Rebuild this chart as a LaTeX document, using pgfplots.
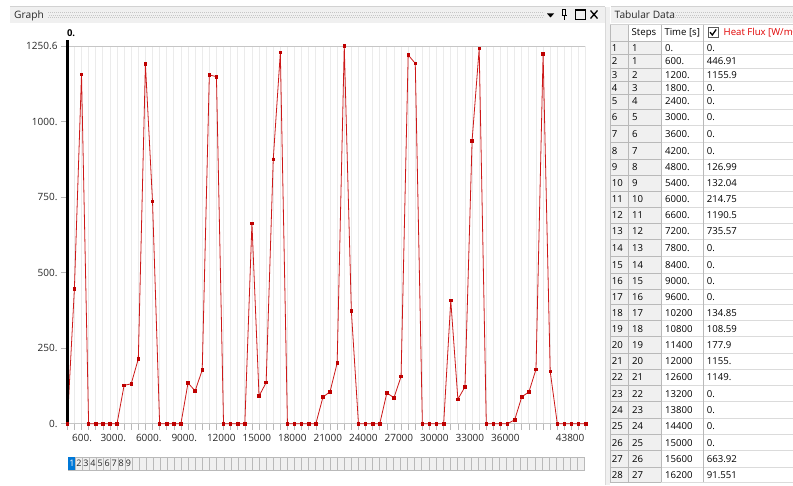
\documentclass[border=0pt]{standalone}
\usepackage{pgfplots}
\pgfplotsset{compat=1.18}
\usepackage{pgfplotstable}
\usepackage{fontspec}
\setmainfont{Open Sans}

\definecolor{flux}{RGB}{205,25,25}
\definecolor{fluxmark}{RGB}{190,0,0}
\definecolor{panel}{RGB}{240,240,240}
\definecolor{selblue}{RGB}{0,120,215}
\definecolor{hdrred}{RGB}{225,0,0}
\definecolor{uitext}{RGB}{40,40,40}

% heat flux history: time [s], heat flux [W/m^2]
\pgfplotstableread{
t q
0 0
600 446.91
1200 1155.9
1800 0
2400 0
3000 0
3600 0
4200 0
4800 126.99
5400 132.04
6000 214.75
6600 1190.5
7200 735.57
7800 0
8400 0
9000 0
9600 0
10200 134.85
10800 108.59
11400 177.9
12000 1155
12600 1149
13200 0
13800 0
14400 0
15000 0
15600 663.92
16200 91.551
16800 136
17400 875
18000 1229
18600 0
19200 0
19800 0
20400 0
21000 0
21600 88
22200 106
22800 201
23400 1250.6
24000 373
24600 0
25200 0
25800 0
26400 0
27000 102
27600 86
28200 156
28800 1221
29400 1193
30000 0
30600 0
31200 0
31800 0
32400 408
33000 81
33600 122
34200 937
34800 1242
35400 0
36000 0
36600 0
37200 0
37800 13
38400 89
39000 105
39600 180
40200 1225
40800 173
41400 0
42000 0
42600 0
43200 0
43800 0
}\fluxdata

\begin{document}
\begin{tikzpicture}[x=1pt,y=1pt,font=\fontsize{9.6}{11}\selectfont]
\useasboundingbox (0,0) rectangle (793,485);
\fill[white] (0,0) rectangle (793,485);

% ---------- Graph panel ----------
\fill[panel] (10,462) rectangle (605,478);
\draw[gray!35] (10,478.5) -- (605,478.5);
\node[anchor=base west,inner sep=0pt,text=uitext,font=\fontsize{10.2}{12}\selectfont] at (14,466.4) {Graph};
\foreach \yy/\off in {467.5/0,470/1,472.5/0}
  \draw[gray!45,line width=0.7pt,dash pattern=on 0.7pt off 1.3pt,dash phase=\off pt] (48,\yy) -- (544,\yy);
% panel buttons
\fill[black] (547,471.5) -- (554,471.5) -- (550.5,467.5) -- cycle;
\draw[black,line width=0.9pt] (561.5,469.5) -- (567,469.5);
\draw[black,line width=0.8pt] (562.8,469.5) rectangle (565.6,475.5);
\draw[black,line width=0.9pt] (564.2,469.5) -- (564.2,465);
\draw[black,line width=0.9pt] (575.5,466) rectangle (585,475.5);
\draw[black,line width=1.6pt] (575.5,475) -- (585,475);
\draw[black,line width=1.3pt] (590.5,466.5) -- (597.5,474.5) (590.5,474.5) -- (597.5,466.5);
\draw[gray!30] (605.5,0) -- (605.5,478);
\fill[panel] (606,0) rectangle (610,478);

% step selector bar
\foreach \i in {0,...,72}
  \draw[gray!55,fill=panel,line width=0.5pt] ({68.3+\i*7.068},15) rectangle ++(7.068,12.7);
\fill[selblue] (68.3,15) rectangle ++(7.068,12.7);
\foreach \i in {2,...,9}
  \node[inner sep=0pt,font=\fontsize{9}{10}\selectfont,text=uitext] at ({68.3+(\i-0.5)*7.068},21.4) {\i};
\node[inner sep=0pt,font=\fontsize{9}{10}\selectfont,text=white] at ({68.3+0.5*7.068},21.4) {1};

% ---------- chart ----------
\begin{axis}[
  at={(67.3pt,61.3pt)}, anchor=origin,
  width=518.4pt, height=377.7pt, scale only axis,
  xmin=0, xmax=43800, ymin=0, ymax=1250.6,
  scaled x ticks=false, scaled y ticks=false,
  clip=false,
  axis line style={gray!45,line width=0.8pt},
  tick pos=left, tick align=outside,
  major tick length=6pt, minor tick length=6pt,
  tick style={gray!55,line width=0.6pt},
  xtick={600,3000,6000,9000,12000,15000,18000,21000,24000,27000,30000,33000,36000},
  xticklabels={600.,3000.,6000.,9000.,12000,15000,18000,21000,24000,27000,30000,33000,36000},
  extra x ticks={43800},
  extra x tick labels={43800},
  extra x tick style={xticklabel style={anchor=north east,xshift=1.4pt}},
  minor xtick={0,600,...,43800},
  xmajorgrids, xminorgrids,
  major grid style={gray!16,line width=0.8pt},
  minor grid style={gray!16,line width=0.8pt},
  ytick={0,250,500,750,1000,1250.6},
  yticklabels={0.,250.,500.,750.,1000.,1250.6},
  /pgf/number format/assume math mode=true,
  ticklabel style={font=\fontsize{10}{12}\selectfont,text=uitext,inner sep=0pt},
  xticklabel style={anchor=north west,xshift=-2.5pt,yshift=-4pt},
  yticklabel style={anchor=east,xshift=-3.6pt},
]
\addplot[color=flux,line width=0.8pt,mark=square*,mark size=1.25pt,
  mark options={fill=fluxmark,draw=fluxmark}] table[x=t,y=q]{\fluxdata};
\draw[black,line width=3.5pt] (axis cs:0,0) -- (axis cs:0,1270);
\node[anchor=south west,inner sep=0pt,font=\bfseries\fontsize{9.5}{11}\selectfont,yshift=3pt,xshift=-0.5pt]
  at (axis cs:0,1270) {0.};
\end{axis}

% ---------- Tabular Data panel ----------
\fill[panel] (611,462) rectangle (793,478);
\draw[gray!35] (611,478.5) -- (793,478.5);
\node[anchor=base west,inner sep=0pt,text=uitext,font=\fontsize{10.2}{12}\selectfont] at (614.5,466.4) {Tabular Data};
\foreach \yy/\off in {467.5/0,470/1,472.5/0}
  \draw[gray!45,line width=0.7pt,dash pattern=on 0.7pt off 1.3pt,dash phase=\off pt] (675,\yy) -- (793,\yy);

% grey read-only columns
\fill[panel] (610,3) rectangle (661,444);
\fill[panel] (610,444) rectangle (628.3,461);
% row separators
\foreach \b in {41,54.7,68,81.3,94.7,109.3,125.7,142.3,159,175.3,191.3,207.3,223.3,239.7,256.5,273,289,304.8,320.7,336.8,353.2,369.3,385.5,401.8,418,434.3,450.8,467.2,482}{
  \draw[gray!55,line width=0.9pt] (610,485-\b) -- (661,485-\b);
  \draw[gray!28,line width=0.9pt] (661,485-\b) -- (793,485-\b);
}
% column separators
\foreach \cx in {610,628.3,661,703.3}
  \draw[gray!55,line width=0.8pt] (\cx,461) -- (\cx,3);
\draw[gray!35] (610,461) -- (793,461);

% header row
\node[anchor=base west,inner sep=0pt,text=black] at (631.5,449.4) {Steps};
\node[anchor=base west,inner sep=0pt,text=black] at (664.3,449.4) {Time [s]};
\draw[gray!70!black,line width=0.6pt,fill=white] (708,447.5) rectangle (718,457.5);
\draw[black,line width=1.3pt] (710,452.8) -- (712.3,450) -- (716.2,455.6);
\begin{scope}
\clip (719,444) rectangle (793,461);
\node[anchor=base west,inner sep=0pt,text=hdrred] at (723.5,449.4) {Heat Flux [W/m²]};
\end{scope}

% rows: image y of row centre / row / step / time / flux
\foreach \c/\n/\s/\t/\q in {
 48/1/1/0./0.,
 61.3/2/1/600./446.91,
 74.7/3/2/1200./1155.9,
 88/4/3/1800./0.,
 101.3/5/4/2400./0.,
 117.3/6/5/3000./0.,
 134/7/6/3600./0.,
 150.7/8/7/4200./0.,
 167.3/9/8/4800./126.99,
 183.3/10/9/5400./132.04,
 199.3/11/10/6000./214.75,
 215.3/12/11/6600./1190.5,
 231.3/13/12/7200./735.57,
 248/14/13/7800./0.,
 265/15/14/8400./0.,
 281/16/15/9000./0.,
 297/17/16/9600./0.,
 312.7/18/17/10200/134.85,
 328.7/19/18/10800/108.59,
 345/20/19/11400/177.9,
 361.3/21/20/12000/1155.,
 377.3/22/21/12600/1149.,
 393.7/23/22/13200/0.,
 410/24/23/13800/0.,
 426/25/24/14400/0.,
 442.7/26/25/15000/0.,
 459/27/26/15600/663.92,
 475.3/28/27/16200/91.551}{
  \node[anchor=base west,inner sep=0pt] at (611.6,485-\c-3.5) {\n};
  \node[anchor=base west,inner sep=0pt] at (632,485-\c-3.5) {\s};
  \node[anchor=base west,inner sep=0pt] at (665,485-\c-3.5) {\t};
  \node[anchor=base west,inner sep=0pt] at (706.7,485-\c-3.5) {\q};
}
\end{tikzpicture}
\end{document}
